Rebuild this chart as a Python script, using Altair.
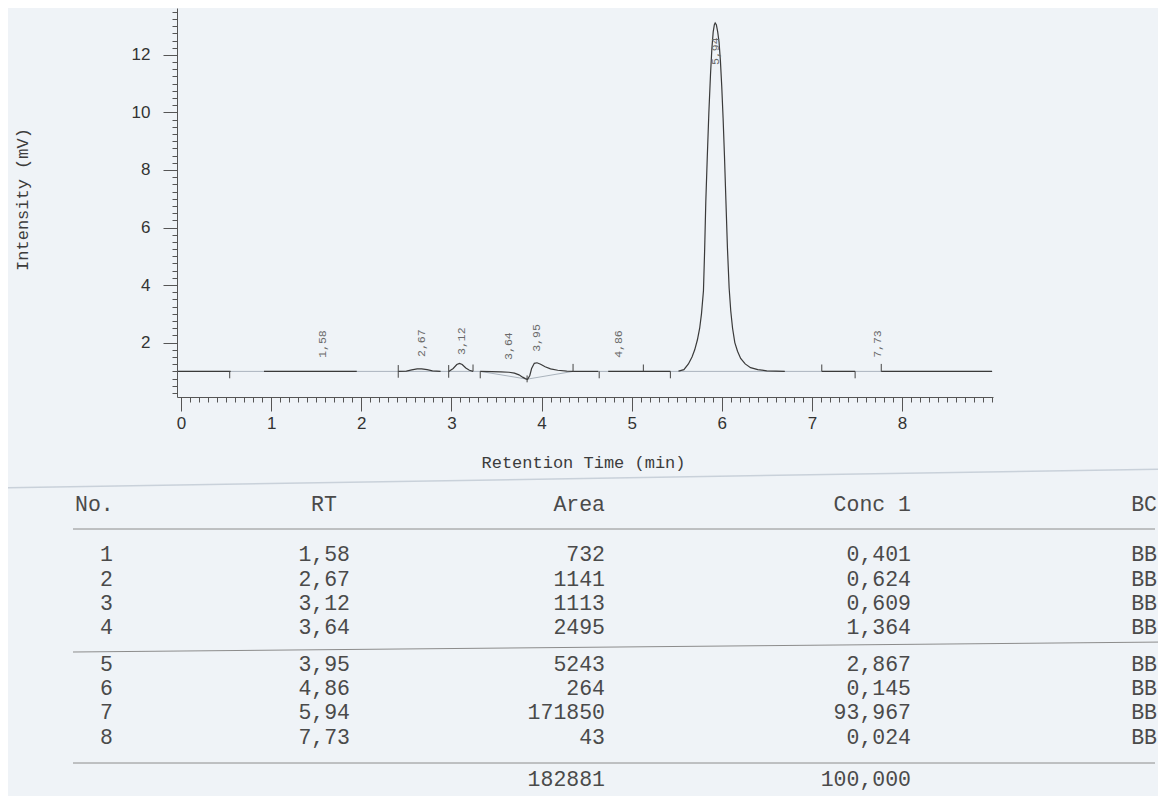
import altair as alt
import pandas as pd

# ---------------- data ----------------
peak_no = [1, 2, 3, 4, 5, 6, 7, 8]
peak_rt = [1.58, 2.67, 3.12, 3.64, 3.95, 4.86, 5.94, 7.73]
peak_area = [732, 1141, 1113, 2495, 5243, 264, 171850, 43]
peak_conc = [0.401, 0.624, 0.609, 1.364, 2.867, 0.145, 93.967, 0.024]
peak_bc = ["BB", "BB", "BB", "BB", "BB", "BB", "BB", "BB"]
total_area = 182881
total_conc = 100.000
# height (mV) where each rotated RT label starts
label_base = [1.47, 1.50, 1.57, 1.40, 1.68, 1.47, 11.65, 1.47]

# dark signal segments (time in min, intensity in mV)
sig_a_t = [-0.04, 0.55]
sig_a_v = [1.0, 1.0]
sig_b_t = [0.92, 1.95]
sig_b_v = [1.0, 1.0]
sig_c_t = [2.41, 2.50, 2.56, 2.62, 2.67, 2.73, 2.79, 2.88]
sig_c_v = [1.0, 1.01, 1.05, 1.09, 1.09, 1.06, 1.02, 1.0]
sig_d_t = [2.97, 3.02, 3.06, 3.09, 3.12, 3.16, 3.20, 3.24]
sig_d_v = [1.0, 1.10, 1.24, 1.28, 1.24, 1.12, 1.04, 1.0]
sig_e_t = [3.32, 3.45, 3.55, 3.64, 3.70, 3.75, 3.79, 3.82, 3.845, 3.87,
           3.89, 3.92, 3.95, 3.99, 4.04, 4.10, 4.18, 4.28, 4.35]
sig_e_v = [1.0, 0.99, 0.98, 0.97, 0.94, 0.88, 0.80, 0.75, 0.72, 0.86,
           1.10, 1.28, 1.30, 1.25, 1.16, 1.09, 1.04, 1.01, 1.0]
sig_f_t = [4.35, 4.63]
sig_f_v = [1.0, 1.0]
sig_g_t = [4.74, 5.43]
sig_g_v = [1.0, 1.0]
sig_h_t = [5.52, 5.58, 5.63, 5.67, 5.70, 5.73, 5.755, 5.775, 5.797, 5.81,
           5.823, 5.84, 5.857, 5.875, 5.89, 5.905, 5.918, 5.927, 5.94, 5.955,
           5.97, 5.985, 6.00, 6.015, 6.03, 6.046, 6.063, 6.082, 6.10, 6.12,
           6.145, 6.175, 6.21, 6.26, 6.32, 6.40, 6.50, 6.70]
sig_h_v = [1.01, 1.06, 1.26, 1.50, 1.75, 2.10, 2.50, 3.00, 3.80, 5.20,
           6.90, 8.50, 10.00, 11.30, 12.20, 12.80, 13.05, 13.11, 13.05, 12.80,
           12.45, 11.80, 10.90, 9.80, 8.50, 6.95, 5.30, 3.90, 3.10, 2.50,
           2.00, 1.70, 1.45, 1.26, 1.13, 1.06, 1.02, 1.00]
sig_i_t = [7.11, 7.48]
sig_i_v = [1.0, 1.0]
sig_j_t = [7.77, 9.0]
sig_j_v = [1.0, 1.0]

# faint baseline / integration baselines
faint_a_t = [-0.04, 3.32]
faint_a_v = [1.0, 1.0]
faint_b_t = [3.32, 3.84, 4.35]
faint_b_v = [1.0, 0.73, 1.0]
faint_c_t = [4.35, 9.0]
faint_c_v = [1.0, 1.0]

# integration tick marks
mark_t = [0.54, 2.41, 2.97, 3.24, 3.32, 3.84, 4.35, 4.64, 5.13, 5.43, 7.11, 7.48, 7.77]
mark_lo = [0.76, 0.78, 0.78, 1.0, 0.76, 0.62, 1.0, 0.76, 1.0, 0.76, 1.0, 0.76, 1.0]
mark_hi = [1.0, 1.22, 1.22, 1.24, 1.0, 0.86, 1.26, 1.0, 1.24, 1.0, 1.24, 1.0, 1.26]

x_major = [0, 1, 2, 3, 4, 5, 6, 7, 8]
y_major = [2, 4, 6, 8, 10, 12]
x_minor = [round(0.1 * i, 1) for i in range(91)]
y_minor = [0.25 * i for i in range(1, 55)]

# ---------------- layout ----------------
XD = [-0.045, 9.01]
YD = [0.11, 13.63]
W, H = 816, 389
PAD = {"left": 169, "top": 0, "right": 165, "bottom": 399}
PXD = [177, 993]   # page-pixel scale used for the printed table
PYD = [8, 397]
MONO = "Courier New, Liberation Mono, monospace"
SANS = "Arial, Liberation Sans, sans-serif"
TXT = "#4a4a4a"

col_no_head, col_no, col_rt_head, col_rt = 75, 113, 324, 350
col_area, col_conc, col_bc = 605, 911, 1157
row_head = 505
rows_y = [555, 580, 604, 628, 665, 689, 713, 738]
row_total = 780


def xs():
    return alt.Scale(domain=XD, nice=False, zero=False)


def ys():
    return alt.Scale(domain=YD, nice=False, zero=False)


def pxs():
    return alt.Scale(domain=PXD, nice=False, zero=False)


def pys():
    return alt.Scale(domain=PYD, nice=False, zero=False, reverse=True)


def segs(pairs):
    rows = []
    for k, (ts, vs) in enumerate(pairs):
        for i, (t, v) in enumerate(zip(ts, vs)):
            rows.append({"t": t, "v": v, "seg": k, "i": i})
    return pd.DataFrame(rows)


trace_df = segs([(sig_a_t, sig_a_v), (sig_b_t, sig_b_v), (sig_c_t, sig_c_v),
                 (sig_d_t, sig_d_v), (sig_e_t, sig_e_v), (sig_f_t, sig_f_v),
                 (sig_g_t, sig_g_v), (sig_h_t, sig_h_v), (sig_i_t, sig_i_v),
                 (sig_j_t, sig_j_v)])
faint_df = segs([(faint_a_t, faint_a_v), (faint_b_t, faint_b_v), (faint_c_t, faint_c_v)])
mark_df = pd.DataFrame({"t": mark_t, "lo": mark_lo, "hi": mark_hi})
label_df = pd.DataFrame({"t": peak_rt, "y": label_base,
                         "lab": [f"{r:.2f}".replace(".", ",") for r in peak_rt]})


def dec(v, n):
    return f"{v:.{n}f}".replace(".", ",")


right_rows = []
for n, r, a, c, b, y in zip(peak_no, peak_rt, peak_area, peak_conc, peak_bc, rows_y):
    right_rows += [
        {"px": col_no, "py": y, "s": str(n)},
        {"px": col_rt, "py": y, "s": dec(r, 2)},
        {"px": col_area, "py": y, "s": str(a)},
        {"px": col_conc, "py": y, "s": dec(c, 3)},
        {"px": col_bc, "py": y, "s": b},
    ]
right_rows += [
    {"px": col_area, "py": row_head, "s": "Area"},
    {"px": col_conc, "py": row_head, "s": "Conc 1"},
    {"px": col_bc, "py": row_head, "s": "BC"},
    {"px": col_area, "py": row_total, "s": str(total_area)},
    {"px": col_conc, "py": row_total, "s": dec(total_conc, 3)},
]
right_df = pd.DataFrame(right_rows)
left_df = pd.DataFrame([{"px": col_no_head, "py": row_head, "s": "No."}])
center_df = pd.DataFrame([{"px": col_rt_head, "py": row_head, "s": "RT"}])

table_lines = pd.DataFrame([
    {"x": 73, "x2": 1155, "y": 529, "y2": 529},
    {"x": 73, "x2": 1166, "y": 652, "y2": 642},
    {"x": 73, "x2": 1155, "y": 763, "y2": 763},
])
paper_edge = pd.DataFrame([{"x": 0, "x2": 1166, "y": 488, "y2": 469}])

# ---------------- chart ----------------
tick_style = dict(grid=False, tickColor="#555", tickWidth=1)

faint = alt.Chart(faint_df).mark_line(color="#aab3bd", strokeWidth=1).encode(
    x=alt.X("t:Q", scale=xs(), axis=alt.Axis(orient="bottom", values=x_minor, tickSize=5,
                                             labels=False, domain=False, title=None,
                                             **tick_style)),
    y=alt.Y("v:Q", scale=ys(), axis=alt.Axis(orient="left", values=y_minor, tickSize=5,
                                             labels=False, domain=False, title=None,
                                             **tick_style)),
    detail="seg:N", order="i:Q",
)

trace = alt.Chart(trace_df).mark_line(color="#3a3a3a", strokeWidth=1.2).encode(
    x=alt.X("t:Q", scale=xs(), axis=alt.Axis(
        orient="bottom", values=x_major, tickSize=14, format="d",
        labelFont=SANS, labelFontSize=17, labelColor="#333", labelPadding=4,
        labelFlush=False, labelOverlap=False,
        title="Retention Time (min)", titleFont=MONO, titleFontSize=17,
        titleFontWeight="normal", titleColor="#3c3c3c",
        titleX=406, titleY=65, titleAlign="center", titleBaseline="middle",
        domainColor="#555", domainWidth=1, **tick_style)),
    y=alt.Y("v:Q", scale=ys(), axis=alt.Axis(
        orient="left", values=y_major, tickSize=14, format="d",
        labelFont=SANS, labelFontSize=17, labelColor="#333", labelPadding=13,
        labelOverlap=False, labelFlush=False,
        title="Intensity (mV)", titleFont=MONO, titleFontSize=17,
        titleFontWeight="normal", titleColor="#3c3c3c", titleAngle=270,
        titleX=-155, titleY=191, titleAlign="center", titleBaseline="middle",
        domainColor="#555", domainWidth=1, **tick_style)),
    detail="seg:N", order="i:Q",
)

marks = alt.Chart(mark_df).mark_rule(color="#444", strokeWidth=1).encode(
    x=alt.X("t:Q", scale=xs(), axis=None),
    y=alt.Y("lo:Q", scale=ys(), axis=None),
    y2="hi:Q",
)

labels = alt.Chart(label_df).mark_text(
    angle=270, align="left", baseline="middle", font=MONO, fontSize=11.5, color="#6a6a6a"
).encode(
    x=alt.X("t:Q", scale=xs(), axis=None),
    y=alt.Y("y:Q", scale=ys(), axis=None),
    text="lab:N",
)


def table_text(df, align):
    return alt.Chart(df).mark_text(
        align=align, baseline="middle", font=MONO, fontSize=21.5, color=TXT
    ).encode(
        x=alt.X("px:Q", scale=pxs(), axis=None),
        y=alt.Y("py:Q", scale=pys(), axis=None),
        text="s:N",
    )


tlines = alt.Chart(table_lines).mark_rule(color="#8c8c8c", strokeWidth=1).encode(
    x=alt.X("x:Q", scale=pxs(), axis=None), x2="x2:Q",
    y=alt.Y("y:Q", scale=pys(), axis=None), y2="y2:Q",
)
edge = alt.Chart(paper_edge).mark_rule(color="#c9d1da", strokeWidth=1.5).encode(
    x=alt.X("x:Q", scale=pxs(), axis=None), x2="x2:Q",
    y=alt.Y("y:Q", scale=pys(), axis=None), y2="y2:Q",
)

chart = alt.layer(
    faint, trace, marks, labels, edge, tlines,
    table_text(right_df, "right"), table_text(left_df, "left"), table_text(center_df, "center"),
).resolve_scale(x="independent", y="independent").resolve_axis(
    x="independent", y="independent"
).properties(
    width=W, height=H, autosize=alt.AutoSizeParams(type="none"), padding=PAD,
    background="#eff3f7",
).configure_view(strokeWidth=0)

chart.save("out.html", embed_options={"renderer": "svg", "actions": False})
